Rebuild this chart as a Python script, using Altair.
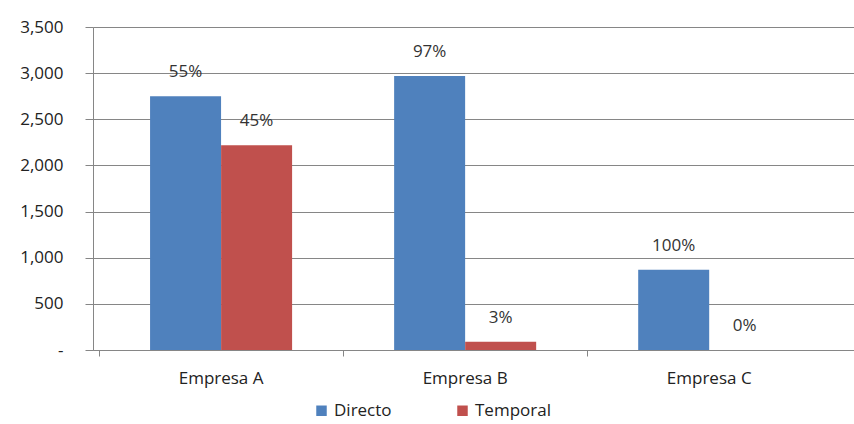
import altair as alt
import pandas as pd

empresas = ["Empresa A", "Empresa B", "Empresa C"]
series = ["Directo", "Temporal"]
directo = [2750, 2970, 870]
temporal = [2220, 90, 0]
pct_directo = ["55%", "97%", "100%"]
pct_temporal = ["45%", "3%", "0%"]

rows = []
for i, e in enumerate(empresas):
    rows.append({"empresa": e, "tipo": "Directo", "valor": directo[i], "pct": pct_directo[i]})
    rows.append({"empresa": e, "tipo": "Temporal", "valor": temporal[i], "pct": pct_temporal[i]})
df = pd.DataFrame(rows)

FONT = "Open Sans"
FS = 17

x = alt.X("empresa:N", sort=empresas, title=None,
          scale=alt.Scale(paddingInner=0, paddingOuter=0.059, align=0.21),
          axis=alt.Axis(labelAngle=0, bandPosition=0, tickSize=6, tickColor="#868686",
                        domainColor="#868686", labelPadding=14, labelFontSize=FS,
                        labelFont=FONT, labelColor="#222222", grid=False))
xo = alt.XOffset("tipo:N", sort=series, scale=alt.Scale(paddingInner=0, paddingOuter=0.718))
y = alt.Y("valor:Q", title=None,
          scale=alt.Scale(domain=[0, 3500], nice=False),
          axis=alt.Axis(values=[0, 500, 1000, 1500, 2000, 2500, 3000, 3500],
                        labelExpr="datum.value == 0 ? '-' : format(datum.value, ',')",
                        tickSize=8, tickColor="#868686", domainColor="#868686",
                        gridColor="#868686", gridWidth=1, labelPadding=22,
                        labelFontSize=FS, labelFont=FONT, labelColor="#222222"))

color = alt.Color("tipo:N", sort=series, title=None,
                  scale=alt.Scale(domain=series, range=["#4F81BD", "#C0504D"]),
                  legend=alt.Legend(orient="none", legendX=220, legendY=375,
                                    direction="horizontal", symbolType="square",
                                    symbolSize=110, symbolStrokeWidth=0,
                                    labelFontSize=FS, labelFont=FONT, labelColor="#222222",
                                    columnPadding=62, labelOffset=4))

bars = alt.Chart(df).mark_bar(size=71).encode(x=x, xOffset=xo, y=y, color=color)

labels = alt.Chart(df).mark_text(baseline="middle", dy=-24, fontSize=FS, font=FONT,
                                 color="#333333").encode(
    x=alt.X("empresa:N", sort=empresas), xOffset=xo, y="valor:Q", text="pct:N")

chart = (bars + labels).properties(
    width=761, height=323,
    autosize=alt.AutoSizeParams(type="none"),
    padding={"left": 93, "top": 27, "right": 0, "bottom": 74},
).configure_view(stroke=None).configure(background="white")

chart.save("out.html", embed_options={"renderer": "svg", "actions": False})
